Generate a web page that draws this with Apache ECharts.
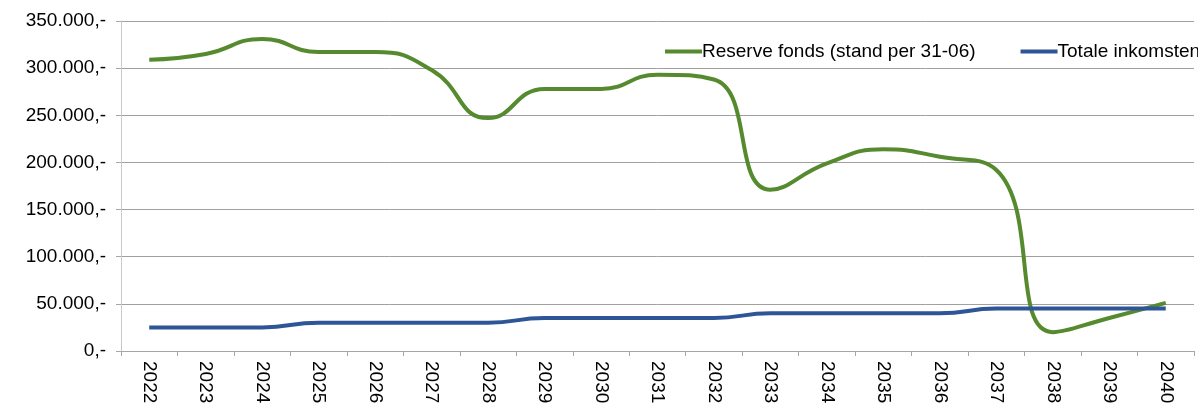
<!DOCTYPE html>
<html>
<head>
<meta charset="utf-8">
<script src="https://cdn.jsdelivr.net/npm/echarts@6/dist/echarts.min.js"></script>
<style>
	html,body{margin:0;padding:0;background:#fff;}
	#main{width:1198px;height:403px;}
</style>
</head>
<body>
<div id="main"></div>
<script>
	//jaren (categorie as)
	var jaren = ['2022','2023','2024','2025','2026','2027','2028','2029','2030','2031',
		'2032','2033','2034','2035','2036','2037','2038','2039','2040'];
	//reserve fonds (stand per 31-06)
	var reserveFonds = [309000,315000,331000,317000,317000,298000,247000,278000,278000,293000,
		288000,171000,199000,214000,206000,192000,20000,35000,51000];
	//totale inkomsten
	var totaleInkomsten = [25000,25000,25000,30000,30000,30000,30000,35000,35000,35000,
		35000,40000,40000,40000,40000,45000,45000,45000,45000];
	var namen = ['Reserve fonds (stand per 31-06)','Totale inkomsten'];
	var kleuren = ['#568a2f','#2d5597'];

	//bedrag als 350.000,-
	function fmt(v){
		var s = String(Math.round(v));
		return s.replace(/\B(?=(\d{3})+(?!\d))/g, '.') + ',-';
	}

	var myChart = echarts.init(document.getElementById('main'));
	var option = {
		 backgroundColor:'#ffffff'
		,animation:false
		,textStyle:{fontFamily:'Liberation Sans, Arial, sans-serif'}
		,grid:{left:121,right:4,top:21,bottom:52,containLabel:false,outerBoundsMode:'none'}
		,legend:{
			 left:660
			,top:37
			,width:900
			,itemWidth:37
			,itemHeight:4
			,itemGap:45
			,icon:'rect'
			,textStyle:{fontSize:19,color:'#000',padding:[0,0,0,-5]}
			,data:namen
		}
		,xAxis:{
			 type:'category'
			,data:jaren
			,boundaryGap:true
			,axisLine:{show:true,lineStyle:{color:'#a6a6a6',width:1}}
			,axisTick:{show:true,length:5,lineStyle:{color:'#a6a6a6'}}
			,axisLabel:{rotate:-90,fontSize:19,color:'#000',margin:10,interval:0}
			,splitLine:{show:false}
		}
		,yAxis:{
			 type:'value'
			,min:0
			,max:350000
			,interval:50000
			,axisLine:{show:true,lineStyle:{color:'#c8c8c8',width:1}}
			,axisTick:{show:true,length:5,lineStyle:{color:'#a6a6a6'}}
			,axisLabel:{fontSize:19,color:'#000',margin:15,formatter:fmt}
			,splitLine:{show:true,lineStyle:{color:'#a0a0a0',width:1}}
		}
		,series:[
			{
				 name:namen[0]
				,type:'line'
				,data:reserveFonds
				,smooth:0.5
				,symbol:'none'
				,color:kleuren[0]
				,lineStyle:{width:4,color:kleuren[0]}
				,z:2
			}
			,{
				 name:namen[1]
				,type:'line'
				,data:totaleInkomsten
				,smooth:0.5
				,symbol:'none'
				,color:kleuren[1]
				,lineStyle:{width:4,color:kleuren[1]}
				,z:3
			}
		]
	};
	myChart.setOption(option);
</script>
</body>
</html>
